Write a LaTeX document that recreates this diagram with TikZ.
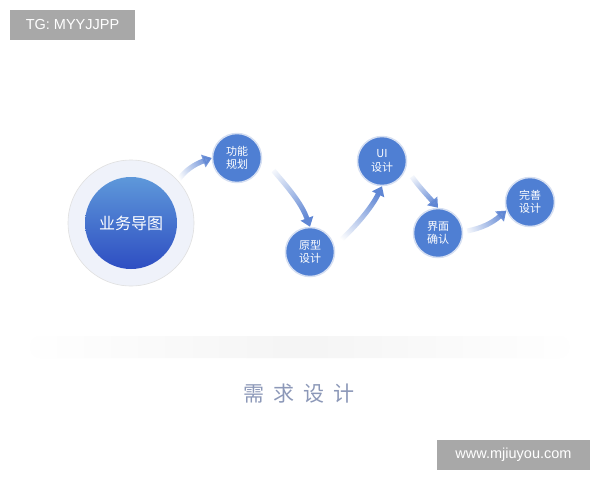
\documentclass[tikz,border=0pt]{standalone}
\usepackage{fontspec}
\setmainfont{Liberation Sans}
\newfontfamily\cjk{Noto Sans CJK SC}
\usetikzlibrary{arrows.meta,fadings,shadings}
\definecolor{nodeblue}{HTML}{4F7FD3}
\definecolor{ringc}{HTML}{D5DFF2}
\definecolor{arrowc}{HTML}{5F86D4}
\definecolor{bigtop}{HTML}{5E98DA}
\definecolor{bigbot}{HTML}{2E4EC2}
\definecolor{outerc}{HTML}{EFF2FA}
\definecolor{wmgray}{HTML}{A8A8A8}
\definecolor{titlec}{HTML}{8C98B8}
\tikzfading[name=tailfade, left color=transparent!100, right color=transparent!0]
\tikzfading[name=bandfade, left color=transparent!100, right color=transparent!100, middle color=transparent!0]
\tikzset{
  stepnode/.style={circle, fill=nodeblue, draw=ringc, line width=1.5pt, minimum size=49pt, inner sep=0pt, text=white, font=\cjk\fontsize{11}{13.5}\selectfont, align=center},
  flowarrow/.style={arrowc, line width=5pt, -{Triangle[length=9pt,width=13pt]}, path fading=tailfade},
  wmbox/.style={fill=wmgray, text=white, inner sep=0pt, font=\fontsize{14.5}{16}\selectfont}
}
\begin{document}
\begin{tikzpicture}[x=1pt,y=-1pt]
\useasboundingbox (0,0) rectangle (600,480);
\fill[white] (0,0) rectangle (600,480);
% watermarks
\node[wmbox, minimum width=125pt, minimum height=30pt] (tg) at (72.5,25) {TG: MYYJJPP};
\node[wmbox, minimum width=153pt, minimum height=30pt] (wm) at (513.5,455) {www.mjiuyou.com};
% bottom band
\fill[black!4, rounded corners=10pt, path fading=bandfade] (30,336) rectangle (570,358);
% big circle
\node[circle, fill=outerc, draw=black!12, line width=0.6pt, minimum size=126pt, inner sep=0pt] (bigout) at (131,223) {};
\shade[top color=bigtop, bottom color=bigbot] (131,223) circle[radius=46pt];
\node[text=white, font=\cjk\fontsize{16}{18}\selectfont] (big) at (131,223) {业务导图};
% step nodes
\node[stepnode] (gn) at (237,158) {功能\\规划};
\node[stepnode] (yx) at (310,252) {原型\\设计};
\node[stepnode] (ui) at (382,161) {UI\\设计};
\node[stepnode] (jm) at (438,233) {界面\\确认};
\node[stepnode] (ws) at (530,202) {完善\\设计};
% arrows
\draw[flowarrow, fading angle=20] (bigout.42) .. controls (185,170) and (195,164) .. (gn.west);
\draw[flowarrow, fading angle=-55] (gn.-15) ++(12,6) .. controls (292,192) and (302,205) .. (yx.north);
\draw[flowarrow, fading angle=55] (yx.20) ++(6,-2) .. controls (360,222) and (373,205) .. (ui.south);
\draw[flowarrow, fading angle=-55] (ui.-30) ++(8,3) .. controls (420,188) and (428,196) .. (jm.north);
\draw[flowarrow, fading angle=15] (jm.east) ++(4,-2) .. controls (482,228) and (492,223) .. (ws.200);
% title
\node[text=titlec, font=\cjk\fontsize{21}{24}\selectfont] (title) at (299,394) {需\hspace{9pt}求\hspace{9pt}设\hspace{9pt}计};
\end{tikzpicture}
\end{document}
